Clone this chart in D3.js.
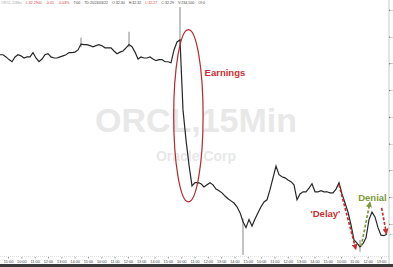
<!DOCTYPE html>
<html>
<head>
<meta charset="utf-8">
<script src="https://cdn.jsdelivr.net/npm/d3@7/dist/d3.min.js"></script>
<style>
  body { margin: 0; background: #fff; }
  svg { display: block; font-family: "Liberation Sans", Arial, sans-serif; }
</style>
</head>
<body>
<svg id="chart" width="393" height="267"></svg>
<script>
// 15 minute closes, ORCL
const closes = [
  35.66, 35.66, 35.62, 35.57, 35.53, 35.62, 35.66, 35.64, 35.60, 35.62,
  35.62, 35.70, 35.60, 35.53, 35.58, 35.66, 35.68, 35.62, 35.60, 35.60,
  35.62, 35.64, 35.66, 35.70, 35.70, 35.71, 35.75, 35.86, 35.85, 35.85,
  35.83, 35.81, 35.83, 35.85, 35.83, 35.79, 35.79, 35.79, 35.73, 35.68,
  35.71, 35.73, 35.79, 35.85, 35.81, 35.71, 35.58, 35.62, 35.60, 35.60,
  35.62, 35.58, 35.55, 35.57, 35.57, 35.53, 35.53, 35.51, 35.75, 35.90,
  35.94, 34.63, 34.07, 33.60, 33.21, 33.27, 33.27, 33.25, 33.19, 33.23,
  33.27, 33.23, 33.15, 33.12, 33.08, 33.02, 32.97, 32.93, 32.89, 32.82,
  32.71, 32.54, 32.43, 32.58, 32.46, 32.59, 32.71, 32.82, 32.91, 32.95,
  33.14, 33.36, 33.58, 33.42, 33.38, 33.36, 33.32, 33.29, 33.23, 32.95,
  33.06, 33.10, 33.10, 33.17, 33.25, 33.10, 33.10, 33.12, 33.10, 33.10,
  33.08, 33.08, 33.15, 33.27, 33.06, 32.89, 32.72, 32.48, 32.20, 32.14,
  32.07, 32.13, 32.24, 32.58, 32.72, 32.63, 32.43, 32.29, 32.28, 32.31
];

// bars with long wicks
const wickBars = [27, 43, 60, 81, 120];
const wickHighs = [35.98, 36.09, 36.55, 32.60, 32.20];
const wickLows = [35.80, 35.80, 35.90, 31.92, 31.98];

const priceTicks = [32.5, 33.0, 33.5, 34.0, 34.5, 35.0, 35.5, 36.0, 36.5];

const timeLabels = [
  "15:00", "10:00", "11:00", "12:00", "13:00", "14:00", "15:00",
  "10:00", "11:00", "12:00", "13:00", "14:00", "15:00",
  "10:00", "11:00", "12:00", "13:00", "14:00", "15:00",
  "10:00", "11:00", "12:00", "13:00", "14:00", "15:00",
  "10:00", "11:00", "12:00", "13:00"
];

const headerText = ["ORCL,15Min", "L:32.2900", "-0.01", "-0.03%", "T:00", "TD:2013/03/22", "O:32.30", "H:32.32", "L:32.27", "C:32.29", "V:234,500", "OI:0"];
const headerColors = ["#aaa", "#c44", "#c44", "#c44", "#444", "#444", "#444", "#444", "#c44", "#444", "#444", "#444"];

const W = 393, H = 267;
const axisX = 389;
const svg = d3.select("#chart");

const x = d3.scaleLinear().domain([0, closes.length - 1]).range([0, 387]);
const y = d3.scaleLinear().domain([31.90, 36.59]).range([256, 5]);

// watermark
svg.append("text")
  .attr("x", 196).attr("y", 132)
  .attr("text-anchor", "middle")
  .attr("font-size", 34).attr("font-weight", "bold")
  .attr("fill", "#e8e8e8")
  .text("ORCL,15Min");
svg.append("text")
  .attr("x", 196).attr("y", 161)
  .attr("text-anchor", "middle")
  .attr("font-size", 14).attr("font-weight", "bold")
  .attr("fill", "#e8e8e8")
  .text("Oracle Corp");

// header
let hx = 1;
headerText.forEach((t, i) => {
  const node = svg.append("text")
    .attr("x", hx).attr("y", 4)
    .attr("font-size", 3.6)
    .attr("fill", headerColors[i])
    .text(t);
  hx += node.node().getComputedTextLength() + 4;
});

// right axis
svg.append("line")
  .attr("x1", axisX).attr("x2", axisX).attr("y1", 0).attr("y2", 264)
  .attr("stroke", "#bbb").attr("stroke-width", 0.8);
const yAxis = svg.append("g")
  .attr("transform", `translate(${axisX},0)`)
  .call(d3.axisRight(y).tickValues(priceTicks).tickSize(1).tickFormat(d3.format(".1f")));
yAxis.select(".domain").remove();
yAxis.selectAll("line").attr("stroke", "#666");
yAxis.selectAll("text").attr("font-size", 1.4).attr("fill", "#444").attr("x", 1);

// bottom time axis
svg.append("line")
  .attr("x1", 0).attr("x2", axisX).attr("y1", 256.5).attr("y2", 256.5)
  .attr("stroke", "#ccc").attr("stroke-width", 0.6).attr("stroke-dasharray", "1,1");
const xt = d3.scalePoint().domain(d3.range(timeLabels.length)).range([8, 381]);
const xAxis = svg.append("g")
  .attr("transform", "translate(0,257)")
  .call(d3.axisBottom(xt).tickSize(1.5).tickFormat(i => timeLabels[i]));
xAxis.select(".domain").remove();
xAxis.selectAll("line").attr("stroke", "#999");
xAxis.selectAll("text").attr("font-size", 3.8).attr("fill", "#444").attr("dy", "0.4em");
svg.append("rect")
  .attr("x", 0).attr("y", 264).attr("width", W).attr("height", 3)
  .attr("fill", "#3a3a3a");

// wicks
svg.append("g").selectAll("line")
  .data(wickBars)
  .join("line")
  .attr("x1", d => x(d)).attr("x2", d => x(d))
  .attr("y1", (d, i) => y(wickHighs[i])).attr("y2", (d, i) => y(wickLows[i]))
  .attr("stroke", "#555").attr("stroke-width", 0.7);

// price line
svg.append("path")
  .datum(closes)
  .attr("d", d3.line().x((d, i) => x(i)).y(d => y(d)))
  .attr("fill", "none")
  .attr("stroke", "#262626")
  .attr("stroke-width", 1.2)
  .attr("stroke-linejoin", "miter");

// close tag
svg.append("text")
  .attr("x", axisX + 0.5).attr("y", y(closes[closes.length - 1]) + 0.6)
  .attr("font-size", 1.4).attr("font-weight", "bold").attr("fill", "#3a9a4a")
  .text(closes[closes.length - 1].toFixed(1));

// annotations
const red = "#c8302f", green = "#7b9a3a";
const defs = svg.append("defs");
[["headRed", red], ["headGreen", green]].forEach(([id, c]) => {
  defs.append("marker")
    .attr("id", id)
    .attr("viewBox", "0 0 10 10")
    .attr("refX", 8).attr("refY", 5)
    .attr("markerWidth", 6).attr("markerHeight", 6)
    .attr("markerUnits", "userSpaceOnUse")
    .attr("orient", "auto")
    .append("path").attr("d", "M0,0L10,5L0,10Z").attr("fill", c);
});

// earnings ellipse
const ei = 62.8;
svg.append("ellipse")
  .attr("cx", x(ei))
  .attr("cy", (y(36.13) + y(32.91)) / 2)
  .attr("rx", x(ei + 4.9) - x(ei))
  .attr("ry", (y(32.91) - y(36.13)) / 2)
  .attr("fill", "none").attr("stroke", "#b5282d").attr("stroke-width", 1.2);

svg.append("text")
  .attr("x", x(68.2)).attr("y", y(35.27))
  .attr("font-size", 9.5).attr("font-weight", "bold").attr("fill", red)
  .text("Earnings");

svg.append("text")
  .attr("x", x(103.5)).attr("y", y(32.63))
  .attr("font-size", 9.5).attr("font-weight", "bold").attr("fill", red)
  .text("'Delay'");

svg.append("text")
  .attr("x", x(119.4)).attr("y", y(32.93))
  .attr("font-size", 9.5).attr("font-weight", "bold").attr("fill", green)
  .text("Denial");

const arrows = [
  { i0: 113.0, p0: 33.23, i1: 118.6, p1: 32.03, c: red, m: "headRed" },
  { i0: 120.4, p0: 32.08, i1: 123.3, p1: 32.90, c: green, m: "headGreen" },
  { i0: 127.2, p0: 32.80, i1: 128.8, p1: 32.32, c: red, m: "headRed" }
];
svg.append("g").selectAll("line")
  .data(arrows)
  .join("line")
  .attr("x1", d => x(d.i0)).attr("y1", d => y(d.p0))
  .attr("x2", d => x(d.i1)).attr("y2", d => y(d.p1))
  .attr("stroke", d => d.c)
  .attr("stroke-width", 1.7)
  .attr("stroke-dasharray", "3,1.8")
  .attr("marker-end", d => `url(#${d.m})`);
</script>
</body>
</html>
